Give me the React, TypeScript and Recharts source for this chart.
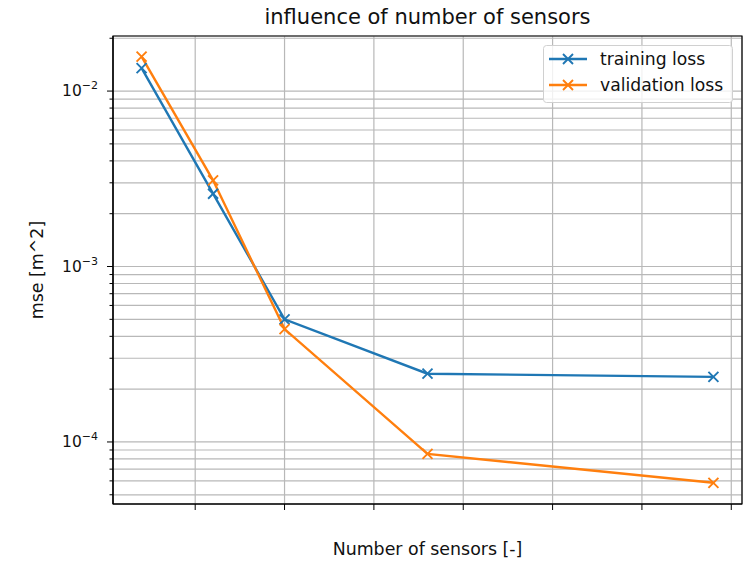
import { LineChart, Line, XAxis, YAxis, CartesianGrid, ReferenceArea, Legend } from 'recharts'

// number of sensors used in each run
const sensors = [1, 3, 5, 9, 17]
// mse [m^2]
const trainingLoss = [0.0135, 0.0026, 0.0005, 0.000245, 0.000235]
const validationLoss = [0.0157, 0.0031, 0.00044, 0.0000855, 0.0000585]

const xTicks = [2.5, 5, 7.5, 10, 12.5, 15, 17.5]
const yTicks = [
  5e-5, 6e-5, 7e-5, 8e-5, 9e-5,
  1e-4, 2e-4, 3e-4, 4e-4, 5e-4, 6e-4, 7e-4, 8e-4, 9e-4,
  1e-3, 2e-3, 3e-3, 4e-3, 5e-3, 6e-3, 7e-3, 8e-3, 9e-3,
  1e-2, 2e-2,
]
const xDomain = [0.2, 17.8]
const yDomain = [4.43e-5, 0.0206]

const BLUE = '#1f77b4'
const ORANGE = '#ff7f0e'
const FONT = '"DejaVu Sans", sans-serif'

const data = sensors.map((n, i) => ({
  n,
  training: trainingLoss[i],
  validation: validationLoss[i],
}))

const isMajor = (v: number) => {
  const e = Math.log10(v)
  return Math.abs(e - Math.round(e)) < 1e-6
}

function YTick(props: any) {
  const { x, y, payload } = props
  const v = payload.value
  if (!isMajor(v)) {
    return <line x1={x - 3.5} x2={x} y1={y} y2={y} stroke="#000" strokeWidth={1} />
  }
  const exp = Math.round(Math.log10(v))
  return (
    <g>
      <line x1={x - 6} x2={x} y1={y} y2={y} stroke="#000" strokeWidth={1} />
      <text x={x - 15} y={y + 5} textAnchor="end" fontFamily={FONT} fill="#111">
        <tspan fontSize={15.5}>10</tspan>
        <tspan fontSize={11} dy={-7}>{`\u2212${Math.abs(exp)}`}</tspan>
      </text>
    </g>
  )
}

function XTick(props: any) {
  const { x, y } = props
  return <line x1={x} x2={x} y1={y} y2={y + 6} stroke="#000" strokeWidth={1} />
}

function Cross(props: any) {
  const { cx, cy, stroke, index } = props
  if (cx == null || cy == null) return <g key={index} />
  const r = 5
  return (
    <path
      key={index}
      d={`M${cx - r},${cy - r}L${cx + r},${cy + r}M${cx - r},${cy + r}L${cx + r},${cy - r}`}
      stroke={stroke}
      strokeWidth={1.9}
      fill="none"
    />
  )
}

function LegendBox() {
  const rows = [
    { label: 'training loss', color: BLUE },
    { label: 'validation loss', color: ORANGE },
  ]
  return (
    <svg width={190} height={58} style={{ display: 'block' }}>
      <rect x={0.5} y={0.5} width={189} height={57} rx={3} fill="rgba(255,255,255,0.8)" stroke="#d0d0d0" />
      {rows.map((r, i) => {
        const cy = 14 + i * 26
        return (
          <g key={r.label}>
            <line x1={6} x2={44} y1={cy} y2={cy} stroke={r.color} strokeWidth={2.4} />
            <path d={`M${25 - 5},${cy - 5}L${25 + 5},${cy + 5}M${25 - 5},${cy + 5}L${25 + 5},${cy - 5}`} stroke={r.color} strokeWidth={1.9} />
            <text x={57} y={cy} dominantBaseline="central" fontSize={17.2} fontFamily={FONT} fill="#111">
              {r.label}
            </text>
          </g>
        )
      })}
    </svg>
  )
}

export default function App() {
  return (
    <div style={{ position: 'absolute', left: 0, top: 0, width: 746, height: 563, background: '#fff', fontFamily: FONT }}>
      <div
        style={{
          position: 'absolute', left: 113, top: 0, width: 629, lineHeight: '34px',
          textAlign: 'center', fontSize: 21, color: '#111',
        }}
      >
        influence of number of sensors
      </div>
      <LineChart width={746} height={563} data={data} margin={{ top: 36, right: 4, bottom: 0, left: 0 }}>
        <CartesianGrid stroke="#b8b8b8" strokeWidth={1.2} />
        <XAxis
          dataKey="n"
          type="number"
          domain={xDomain}
          ticks={xTicks}
          interval={0}
          allowDataOverflow
          height={59}
          tickSize={0}
          tickMargin={0}
          tickLine={false}
          tick={<XTick />}
          axisLine={{ stroke: '#000', strokeWidth: 1.2 }}
          label={{
            content: (p: any) => {
              const vb = p.viewBox
              return (
                <text x={vb.x + vb.width / 2} y={vb.y + 45} textAnchor="middle" dominantBaseline="central" fontSize={17.4} fontFamily={FONT} fill="#111">
                  Number of sensors [-]
                </text>
              )
            },
          }}
        />
        <YAxis
          type="number"
          scale="log"
          domain={yDomain}
          ticks={yTicks}
          interval={0}
          allowDataOverflow
          width={113}
          tickSize={0}
          tickMargin={0}
          tickLine={false}
          tick={<YTick />}
          axisLine={{ stroke: '#000', strokeWidth: 1.2 }}
          label={{
            content: (p: any) => {
              const vb = p.viewBox
              const cy = vb.y + vb.height / 2
              return (
                <text x={37} y={cy} transform={`rotate(-90 37 ${cy})`} textAnchor="middle" dominantBaseline="central" fontSize={17.4} fontFamily={FONT} fill="#111">
                  mse [m^2]
                </text>
              )
            },
          }}
        />
        <ReferenceArea x1={xDomain[0]} x2={xDomain[1]} y1={yDomain[0]} y2={yDomain[1]} fill="none" stroke="#000" strokeWidth={1.2} />
        <Line dataKey="training" stroke={BLUE} strokeWidth={2.4} dot={<Cross />} isAnimationActive={false} />
        <Line dataKey="validation" stroke={ORANGE} strokeWidth={2.4} dot={<Cross />} isAnimationActive={false} />
        <Legend
          layout="horizontal"
          verticalAlign="middle"
          content={() => <LegendBox />}
          wrapperStyle={{ left: 543, top: 45, width: 190, height: 58 }}
        />
      </LineChart>
    </div>
  )
}
